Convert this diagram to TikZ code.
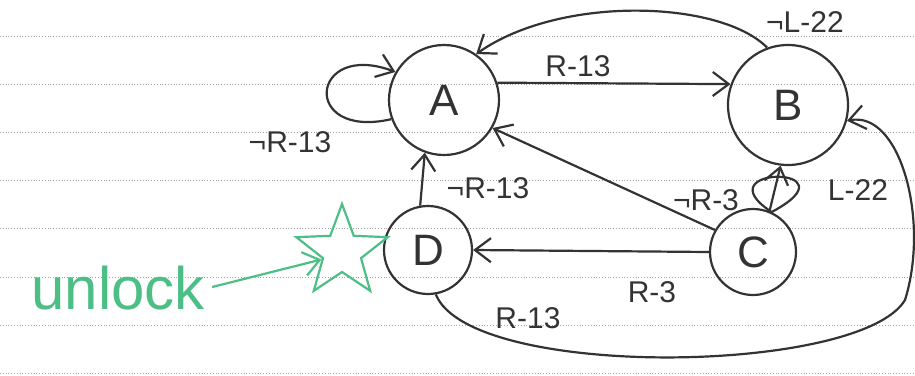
\documentclass[tikz,border=0pt]{standalone}
\usepackage{fontspec}
\setmainfont{Liberation Sans}
\usepackage{tikz}
\usetikzlibrary{arrows.meta, positioning, shapes.geometric}
\definecolor{inkgray}{HTML}{333333}
\definecolor{inkgreen}{HTML}{4DBF86}
\definecolor{rulegray}{HTML}{A0A0A0}

\begin{document}
\begin{tikzpicture}[x=1pt, y=-1pt,
    state/.style={circle, draw=inkgray, line width=2.2pt, inner sep=0pt, text=inkgray, font=\fontsize{44}{44}\selectfont},
    lbl/.style={text=inkgray, font=\fontsize{30}{32}\selectfont},
    arrow/.style={-{Straight Barb[length=16pt, width=24pt, line width=2.2pt]}, line width=2.2pt, draw=inkgray},
    loopline/.style={line width=2.2pt, draw=inkgray},
    ruled/.style={rulegray, dotted, line width=0.8pt}]
    \path[use as bounding box] (0,0) rectangle (915,375);
    \foreach \k in {0,...,7} \draw[ruled] (0,36+48.2*\k) -- (915,36+48.2*\k);

    \node[state, minimum size=110pt] (A) at (444,100) {A};
    \node[state, minimum size=120pt] (B) at (788,105) {B};
    \node[state, minimum size=86pt] (C) at (753,252) {C};
    \node[state, minimum size=88pt] (D) at (428,250) {D};

    % start marker
    \node[text=inkgreen, font=\fontsize{60}{60}\selectfont] (unlock) at (118,288) {unlock};
    \node[star, star points=5, star point ratio=2.4, draw=inkgreen, line width=2.2pt, minimum size=96pt] (init) at (342,252) {};
    \draw[arrow, draw=inkgreen, shorten <=4pt] (unlock.east) -- (init.200);

    % transitions
    \draw[arrow] (A.200) .. controls (300,140) and (310,40) .. (A.150);
    \node[lbl] (lblAA) at (290,142) {¬R-13};

    \draw[arrow] (A.18) -- (B.160);
    \node[lbl] (lblAB) at (578,66) {R-13};

    \draw[arrow] (B.110) .. controls (720,0) and (560,-5) .. (A.55);
    \node[lbl] (lblBA) at (805,22) {¬L-22};

    \draw[arrow] (C.150) -- (A.-30);
    \draw[arrow] (C.68) -- (B.-97);
    \node[lbl] (lblCB) at (706,200) {¬R-3};

    \draw[loopline] (C.65) .. controls (700,165) and (860,165) .. (C.65);
    \node[lbl] (lblCC) at (858,190) {L-22};

    \draw[arrow] (C.west) -- (D.east);
    \node[lbl] (lblCD) at (652,292) {R-3};

    \draw[arrow] (D.100) -- (A.-110);
    \node[lbl] (lblDA) at (488,188) {¬R-13};

    \draw[arrow] (D.-80) .. controls (470,380) and (860,375) .. (905,300)
        .. controls (930,220) and (900,110) .. (B.-15);
    \node[lbl] (lblDB) at (528,318) {R-13};
\end{tikzpicture}
\end{document}
